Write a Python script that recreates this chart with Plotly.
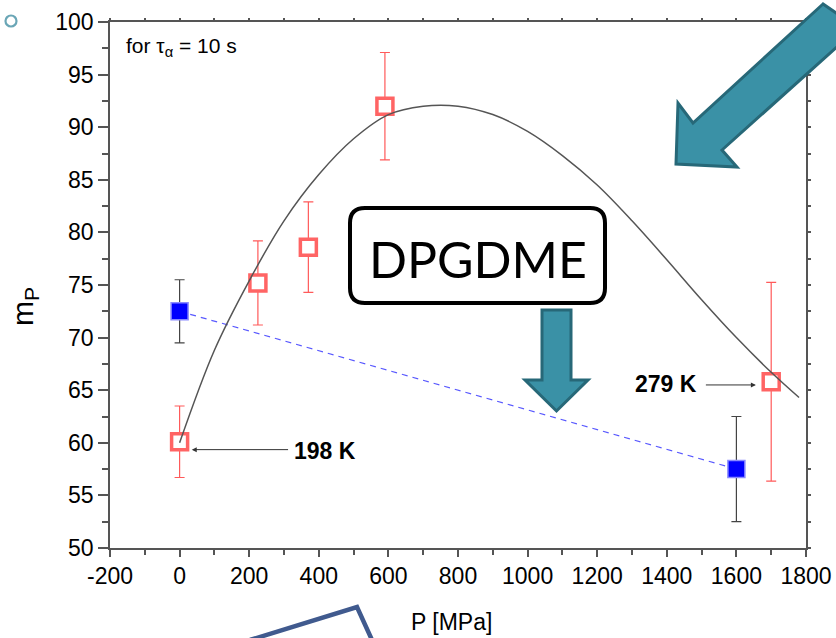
import plotly.graph_objects as go

# Measured points at tau_alpha = 10 s
red_P = [0, 225, 370, 590, 1700]
red_m = [60.1, 75.2, 78.6, 92.0, 65.8]
red_err = [3.4, 4.0, 4.3, 5.1, 9.45]

blue_P = [0, 1600]
blue_m = [72.5, 57.5]
blue_err = [3.0, 5.0]

# Guide curve through the isothermal data
curve_P = [0, 100, 200, 300, 400, 500, 600, 700, 800, 900,
           1000, 1100, 1200, 1300, 1400, 1500, 1600, 1700, 1780]
curve_m = [60.0, 68.8, 75.4, 81.1, 85.5, 88.9, 91.2, 92.0, 92.0, 91.2,
           89.6, 87.3, 84.5, 81.1, 77.4, 73.6, 70.0, 66.7, 64.3]

x_ticks = list(range(-200, 1801, 200))
x_labels = [str(v) for v in x_ticks]
y_ticks = list(range(50, 101, 5))
y_labels = [str(v) for v in y_ticks]

W, H = 836, 638
ML, MR, MT, MB = 110, 30, 22, 90
PW, PH = W - ML - MR, H - MT - MB


def paper(x, y):
    """Convert page pixels to paper coordinates."""
    return (x - ML) / PW, (H - MB - y) / PH


def poly_path(pts, close=True):
    s = ""
    for i, (x, y) in enumerate(pts):
        u, v = paper(x, y)
        s += ("M" if i == 0 else "L") + f"{u:.5f},{v:.5f} "
    return s + ("Z" if close else "")


def round_rect_path(x0, y0, x1, y1, r):
    def p(x, y):
        u, v = paper(x, y)
        return f"{u:.5f},{v:.5f}"
    return (f"M{p(x0 + r, y0)} L{p(x1 - r, y0)} Q{p(x1, y0)} {p(x1, y0 + r)} "
            f"L{p(x1, y1 - r)} Q{p(x1, y1)} {p(x1 - r, y1)} "
            f"L{p(x0 + r, y1)} Q{p(x0, y1)} {p(x0, y1 - r)} "
            f"L{p(x0, y0 + r)} Q{p(x0, y0)} {p(x0 + r, y0)} Z")


FONT = "Liberation Sans, Arial, sans-serif"
AX = "#555555"
TEAL = "#3a91a6"
TEAL_DARK = "#276878"

fig = go.Figure()

fig.add_trace(go.Scatter(
    x=blue_P, y=blue_m, mode="lines",
    line=dict(color="#5a5aff", width=1.2, dash="6px,5px"),
    hoverinfo="skip", showlegend=False))

fig.add_trace(go.Scatter(
    x=red_P, y=red_m, mode="markers",
    error_y=dict(type="data", array=red_err, color="#ff5a5a", thickness=1.2, width=5),
    marker=dict(symbol="square", size=16, color="white",
                line=dict(color="#ff6464", width=3.5)),
    showlegend=False))

fig.add_trace(go.Scatter(
    x=blue_P, y=blue_m, mode="markers",
    error_y=dict(type="data", array=blue_err, color="#444444", thickness=1.2, width=5),
    marker=dict(symbol="square", size=17, color="#0000ff",
                line=dict(color="#8a8aff", width=1.5)),
    showlegend=False))

fig.add_trace(go.Scatter(
    x=curve_P, y=curve_m, mode="lines",
    line=dict(color="#555555", width=1.5, shape="spline", smoothing=1.0),
    hoverinfo="skip", showlegend=False))

# invisible trace so the mirrored top/right tick axes are drawn
fig.add_trace(go.Scatter(x=[-200], y=[50], xaxis="x2", yaxis="y2", mode="markers",
                         marker=dict(opacity=0), hoverinfo="skip", showlegend=False))

fig.update_layout(
    width=W, height=H, margin=dict(l=ML, r=MR, t=MT, b=MB, autoexpand=False),
    paper_bgcolor="white", plot_bgcolor="white",
    font=dict(family=FONT, color="black"),
    xaxis=dict(range=[-200, 1800], tickvals=x_ticks, ticktext=x_labels, ticks="outside", ticklen=7,
               tickwidth=1.5, tickcolor=AX, showline=True, linecolor=AX, linewidth=1.5,
               showgrid=False, zeroline=False, tickfont=dict(size=23), automargin=False,
               minor=dict(dtick=100, tick0=0, ticks="outside", ticklen=5, tickcolor=AX, tickwidth=1.5)),
    yaxis=dict(range=[50, 100], tickvals=y_ticks, ticktext=y_labels, ticks="outside", ticklen=10,
               tickwidth=1.5, tickcolor=AX, showline=True, linecolor=AX, linewidth=1.5,
               showgrid=False, zeroline=False, tickfont=dict(size=23), automargin=False,
               minor=dict(dtick=2.5, tick0=50, ticks="outside", ticklen=6, tickcolor=AX, tickwidth=1.5)),
    xaxis2=dict(range=[-200, 1800], overlaying="x", anchor="y", side="top",
                showline=True, linecolor=AX, linewidth=1.5, ticks="outside", ticklen=2,
                dtick=100, tick0=0, tickcolor=AX, tickwidth=1.5, showticklabels=False,
                showgrid=False, zeroline=False, automargin=False),
    yaxis2=dict(range=[50, 100], overlaying="y", anchor="x", side="right",
                showline=True, linecolor=AX, linewidth=1.5, ticks="outside", ticklen=3,
                dtick=2.5, tick0=50, tickcolor=AX, tickwidth=1.5, showticklabels=False,
                showgrid=False, zeroline=False, automargin=False),
)

annotations = [
    # axis titles
    dict(xref="paper", yref="paper", x=paper(451, 0)[0], y=paper(0, 622)[1],
         text="P [MPa]", showarrow=False, xanchor="center", yanchor="middle",
         font=dict(size=23, family=FONT)),
    dict(xref="paper", yref="paper", x=paper(24, 0)[0], y=paper(0, 307)[1],
         text="m<sub>P</sub>", showarrow=False, xanchor="center", yanchor="middle",
         textangle=-90, font=dict(size=30, family=FONT)),
    dict(xref="paper", yref="paper", x=paper(124, 0)[0], y=paper(0, 47)[1],
         text="for τ<sub>α</sub> = 10 s", showarrow=False, xanchor="left", yanchor="middle",
         font=dict(size=21, family=FONT)),
    dict(xref="x", yref="y", x=417, y=59.25, text="<b>198 K</b>", showarrow=False,
         font=dict(size=23, family=FONT)),
    dict(xref="x", yref="y", x=35, y=59.35, ax=316, ay=59.35, axref="x", ayref="y",
         text="", showarrow=True, arrowhead=2, arrowsize=1, arrowwidth=1, arrowcolor="#333333"),
    dict(xref="x", yref="y", x=1398, y=65.55, text="<b>279 K</b>", showarrow=False,
         font=dict(size=23, family=FONT)),
    dict(xref="x", yref="y", x=1656, y=65.5, ax=1508, ay=65.5, axref="x", ayref="y",
         text="", showarrow=True, arrowhead=2, arrowsize=1, arrowwidth=1, arrowcolor="#333333"),
    dict(xref="paper", yref="paper", x=paper(478, 0)[0], y=paper(0, 259)[1],
         text="DPGDME", showarrow=False, xanchor="center", yanchor="middle",
         font=dict(size=50, family="Lato, sans-serif", color="black")),
]
fig.update_layout(annotations=annotations)

c0 = paper(5.5, 15.5)
c1 = paper(16.5, 26.5)
shapes = [
    # rounded label box
    dict(type="path", xref="paper", yref="paper", layer="above",
         path=round_rect_path(350, 208, 605, 303, 15),
         fillcolor="white", line=dict(color="black", width=4)),
    # large arrow from the upper right corner
    dict(type="path", xref="paper", yref="paper", layer="above",
         path=poly_path([(823, 4), (693, 123), (678, 103), (676, 164), (737, 167),
                         (722, 150), (858, 28)]),
         fillcolor=TEAL, line=dict(color=TEAL_DARK, width=3)),
    # small downward arrow under the label
    dict(type="path", xref="paper", yref="paper", layer="above",
         path=poly_path([(542, 310), (571, 310), (571, 380), (588, 380), (556.5, 411),
                         (525, 380), (542, 380)]),
         fillcolor=TEAL, line=dict(color=TEAL_DARK, width=3)),
    # outline shape at the bottom edge
    dict(type="path", xref="paper", yref="paper", layer="above",
         path=poly_path([(250, 640), (357, 607), (372, 640)], close=False),
         line=dict(color="#405a8e", width=4.5)),
    # bullet
    dict(type="circle", xref="paper", yref="paper", layer="above",
         x0=c0[0], x1=c1[0], y0=c1[1], y1=c0[1],
         line=dict(color="#6aa6b6", width=2.2), fillcolor="rgba(0,0,0,0)"),
]
fig.update_layout(shapes=shapes)

fig.write_html("out.html")
